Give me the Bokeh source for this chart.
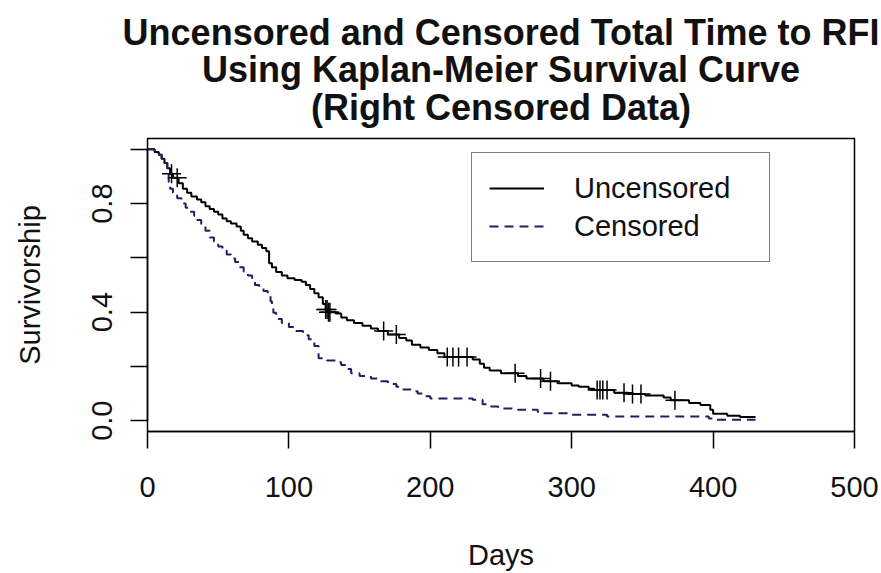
import numpy as np
from bokeh.plotting import figure
from bokeh.models import (Range1d, FixedTicker, Legend, LegendItem, Title)
from bokeh.embed import file_html
from bokeh.resources import INLINE

# ---- data ----
unc_days = [0, 5, 8, 10, 12, 14, 16, 18, 22, 25, 28, 31, 35, 38, 41, 44, 47, 50, 53, 56,
            59, 63, 66, 68, 71, 74, 78, 81, 84, 86, 88, 91, 95, 99, 104, 109, 112, 115, 118,
            121, 124, 126, 128, 133, 137, 141, 146, 152, 158, 163, 170, 178, 183, 187, 193,
            199, 205, 210, 230, 235, 238, 242, 250, 262, 268, 280, 290, 300, 305, 312, 316,
            330, 340, 352, 365, 370, 383, 391, 398, 400, 410, 419, 430]
unc_surv = [1.0, 0.99, 0.98, 0.965, 0.95, 0.93, 0.91, 0.895, 0.875, 0.855, 0.84, 0.826, 0.815,
            0.805, 0.79, 0.78, 0.77, 0.76, 0.745, 0.735, 0.727, 0.716, 0.70, 0.685, 0.672, 0.66,
            0.648, 0.636, 0.624, 0.58, 0.565, 0.548, 0.535, 0.525, 0.518, 0.512, 0.50, 0.485,
            0.47, 0.455, 0.43, 0.41, 0.40, 0.395, 0.38, 0.37, 0.36, 0.35, 0.34, 0.33, 0.318,
            0.305, 0.295, 0.28, 0.27, 0.26, 0.248, 0.235, 0.225, 0.21, 0.195, 0.185, 0.175,
            0.165, 0.155, 0.145, 0.138, 0.13, 0.125, 0.118, 0.113, 0.103, 0.098, 0.093, 0.085,
            0.075, 0.065, 0.058, 0.04, 0.025, 0.018, 0.013, 0.013]

cens_days = [0, 5, 8, 10, 12, 14, 15, 16, 18, 21, 24, 27, 30, 33, 35, 38, 41, 44, 47, 50, 53,
             56, 59, 62, 65, 68, 71, 74, 76, 79, 82, 85, 87, 88, 89, 91, 95, 100, 105, 110, 114,
             118, 121, 127, 133, 137, 141, 144, 150, 158, 163, 170, 176, 181, 186, 191, 196,
             200, 230, 237, 243, 248, 262, 276, 280, 300, 325, 397, 400, 430]
cens_surv = [1.0, 0.99, 0.98, 0.965, 0.95, 0.92, 0.88, 0.855, 0.84, 0.82, 0.80, 0.785, 0.77,
             0.755, 0.74, 0.72, 0.70, 0.675, 0.66, 0.642, 0.628, 0.612, 0.598, 0.585, 0.565,
             0.55, 0.535, 0.515, 0.50, 0.49, 0.478, 0.46, 0.44, 0.42, 0.398, 0.375, 0.36, 0.345,
             0.33, 0.315, 0.30, 0.275, 0.23, 0.222, 0.215, 0.205, 0.19, 0.175, 0.165, 0.155,
             0.145, 0.135, 0.125, 0.115, 0.108, 0.10, 0.09, 0.082, 0.077, 0.06, 0.052, 0.045,
             0.04, 0.032, 0.027, 0.022, 0.015, 0.008, 0.003, 0.003]

censor_times = [17, 21, 126, 127, 128, 129, 167, 176, 212, 216, 220, 226, 260, 278, 285,
                318, 320, 322, 325, 337, 343, 349, 373]

x_ticks = [0, 100, 200, 300, 400, 500]
y_ticks = [0.0, 0.2, 0.4, 0.6, 0.8, 1.0]
y_tick_labels = {0.0: "0.0", 0.2: "", 0.4: "0.4", 0.6: "", 0.8: "0.8", 1.0: ""}

title_lines = ["Uncensored and Censored Total Time to RFI",
               "Using Kaplan-Meier Survival Curve",
               "(Right Censored Data)"]

FONT = "Liberation Sans"
NAVY = "#202060"

p = figure(width=881, height=573, output_backend="svg", toolbar_location=None,
           x_range=Range1d(0, 500), y_range=Range1d(-0.04, 1.04),
           min_border_left=147, min_border_right=27, min_border_top=138, min_border_bottom=142)
p.background_fill_color = "white"
p.border_fill_color = "white"
p.grid.visible = False
p.outline_line_color = "black"
p.outline_line_width = 1.5

# axes
for ax in (p.xaxis[0], p.yaxis[0]):
    ax.major_tick_out = 17
    ax.major_tick_in = 0
    ax.minor_tick_line_color = None
    ax.axis_line_width = 1.5
    ax.major_tick_line_width = 1.5
    ax.major_label_text_font = FONT
    ax.major_label_text_font_size = "29px"
    ax.major_label_text_color = "#111111"
    ax.axis_label_text_font = FONT
    ax.axis_label_text_font_size = "29px"
    ax.axis_label_text_font_style = "normal"
    ax.axis_label_text_color = "#111111"

p.xaxis.ticker = FixedTicker(ticks=x_ticks)
p.xaxis.major_label_standoff = 28
p.xaxis.axis_label = "Days"
p.xaxis.axis_label_standoff = 39

p.yaxis.ticker = FixedTicker(ticks=y_ticks)
p.yaxis.bounds = (0, 1)
p.yaxis.major_label_overrides = y_tick_labels
p.yaxis.major_label_orientation = "vertical"
p.yaxis.major_label_standoff = 18
p.yaxis.axis_label = "Survivorship"
p.yaxis.axis_label_standoff = 44

# curves
r_unc = p.step(unc_days, unc_surv, mode="after", line_color="black", line_width=2)
r_cens = p.step(cens_days, cens_surv, mode="after", line_color=NAVY, line_width=2,
                line_dash="9 6")

# censor marks on the uncensored curve
idx = np.searchsorted(np.array(unc_days), np.array(censor_times), side="right") - 1
mark_y = [unc_surv[i] for i in idx]
p.scatter(censor_times, mark_y, marker="cross", size=19, line_color="black", line_width=1.5)

# legend
legend = Legend(items=[LegendItem(label="Uncensored", renderers=[r_unc]),
                       LegendItem(label="Censored", renderers=[r_cens])],
                location=(324, 169), orientation="vertical")
legend.label_text_font = FONT
legend.label_text_font_size = "29px"
legend.label_text_color = "#111111"
legend.glyph_width = 55
legend.glyph_height = 36
legend.label_height = 36
legend.label_width = 178
legend.label_standoff = 30
legend.spacing = 2
legend.padding = 17
legend.margin = 0
legend.border_line_color = "black"
legend.border_line_width = 1.5
legend.background_fill_alpha = 1.0
p.add_layout(legend, "center")

# title: three centered bold lines, added nearest-to-frame first
title_standoffs = [21, -31, 19]
for txt, so in zip(reversed(title_lines), title_standoffs):
    p.add_layout(Title(text=txt, align="center", text_font=FONT, text_font_style="bold",
                       text_font_size="36px", text_color="#111111",
                       standoff=so, offset=0), "above")

open("out.html", "w").write(file_html(p, INLINE))
